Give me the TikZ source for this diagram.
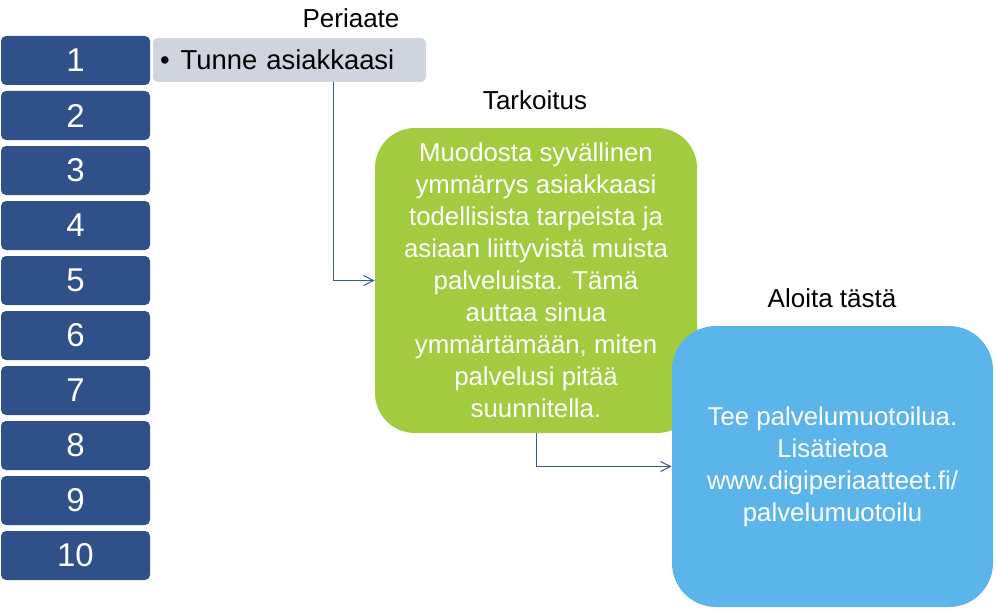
\documentclass[tikz,border=0pt]{standalone}
\usepackage{fontspec}
\setmainfont{Liberation Sans}
\usepackage{xcolor}
\usetikzlibrary{arrows.meta, positioning}

\definecolor{numblue}{HTML}{2F5089}
\definecolor{tunnegray}{HTML}{D0D4DE}
\definecolor{purposegreen}{HTML}{A2CB3F}
\definecolor{startblue}{HTML}{5BB4EA}
\definecolor{connblue}{HTML}{3A5897}

\tikzset{
    numbox/.style={fill=numblue, text=white, rounded corners=2.5pt, inner sep=0pt,
        minimum width=74.5pt, minimum height=24.5pt, font=\fontsize{16.5}{18}\selectfont},
    headline/.style={font=\fontsize{13}{14}\selectfont},
    bigbox/.style={text=white, align=center, inner sep=0pt, font=\fontsize{12.9}{16}\selectfont},
    conn/.style={draw=connblue, line width=0.5pt, -{Straight Barb[length=5pt,width=5pt]}}
}

\begin{document}
\begin{tikzpicture}[x=0.5pt, y=0.5pt]
                        \useasboundingbox (0, 0) rectangle (996, 612);

                        \foreach \i in {1, ..., 10}
                            \node[numbox] (n\i) at (75.5, {551.5 - 55*(\i-1)}) {\i};

                        \node[fill=tunnegray, rounded corners=2.5pt, inner xsep=3.5pt, inner ysep=0pt,
                            minimum width=136.5pt, minimum height=22pt, text width=129.5pt, align=left,
                            font=\fontsize{13.7}{16}\selectfont]
                            (tunne) at (289.5, 552) {\textbullet\hspace{5.5pt}Tunne asiakkaasi};

                        \node[bigbox, fill=purposegreen, rounded corners=20pt,
                            minimum width=161pt, minimum height=152.5pt]
                            (purpose) at (536, 331.5) {Muodosta syvällinen\\ ymmärrys asiakkaasi\\ todellisista tarpeista ja\\ asiaan liittyvistä muista\\ palveluista. Tämä\\ auttaa sinua\\ ymmärtämään, miten\\ palvelusi pitää\\ suunnitella.};

                        \node[bigbox, fill=startblue, rounded corners=22pt,
                            minimum width=160.5pt, minimum height=140.5pt]
                            (start) at (832.5, 145.5) {Tee palvelumuotoilua.\\ Lisätietoa\\ www.digiperiaatteet.fi/\\ palvelumuotoilu};

                        \node[headline] (periaate) at (351, 594) {Periaate};
                        \node[headline] (tarkoitus) at (535, 512) {Tarkoitus};
                        \node[headline] (aloita) at (832, 314) {Aloita tästä};

                        \coordinate (tunnedrop) at (333, 530);
                        \draw[conn] (tunnedrop) |- (purpose.west);
                        \draw[conn] (purpose.south) |- (start.west);
                    \end{tikzpicture}
\end{document}
